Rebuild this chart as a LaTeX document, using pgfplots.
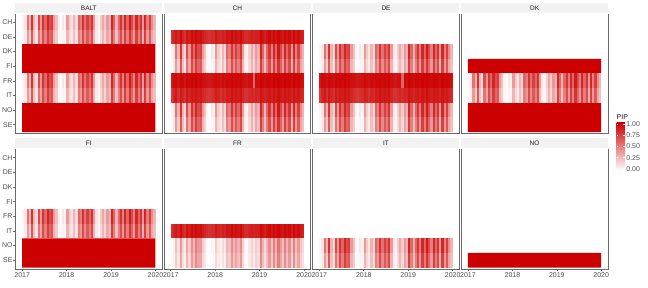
\documentclass[border=0pt]{standalone}
\usepackage{pgfplots}
\pgfplotsset{compat=1.18}
\usepackage{pgfplotstable}
\usepackage{fontspec}
\setmainfont{Liberation Sans}
\definecolor{pipred}{RGB}{204,0,0}
\definecolor{axtext}{RGB}{77,77,77}
\definecolor{striptext}{RGB}{26,26,26}
\definecolor{stripbg}{RGB}{242,242,242}
\definecolor{axline}{RGB}{105,105,105}

\pgfdeclareplotmark{cell}{\pgfpathrectangle{\pgfpoint{-1.2bp}{-7.35bp}}{\pgfpoint{2.4bp}{14.7bp}}\pgfusepathqfill}

\pgfplotstableread{
x p1 p2 h1 h2 h3 l1 l2
2017.025 0.05 0.03 0.80 0.90 0.75 0.02 0.02
2017.075 0.10 0.08 0.85 0.95 0.85 0.05 0.04
2017.125 0.55 0.40 0.90 0.95 0.90 0.25 0.20
2017.175 0.30 0.20 0.85 0.92 0.80 0.12 0.10
2017.225 0.80 0.65 0.95 0.97 0.90 0.40 0.35
2017.275 0.30 0.25 0.85 0.95 0.85 0.15 0.12
2017.325 0.15 0.10 0.80 0.92 0.80 0.08 0.05
2017.375 0.70 0.55 0.92 0.97 0.90 0.35 0.30
2017.425 0.40 0.35 0.88 0.95 0.85 0.20 0.15
2017.475 0.80 0.70 0.95 0.97 0.90 0.45 0.40
2017.525 0.60 0.50 0.90 0.95 0.88 0.30 0.25
2017.575 0.85 0.75 0.95 0.98 0.92 0.50 0.45
2017.625 0.70 0.60 0.92 0.95 0.88 0.40 0.35
2017.675 0.75 0.65 0.93 0.96 0.90 0.40 0.35
2017.725 0.40 0.30 0.88 0.94 0.85 0.20 0.15
2017.775 0.25 0.20 0.85 0.93 0.82 0.12 0.10
2017.825 0.05 0.03 0.82 0.92 0.80 0.02 0.02
2017.875 0.00 0.02 0.80 0.90 0.78 0.00 0.00
2017.925 0.10 0.05 0.83 0.92 0.80 0.05 0.03
2017.975 0.05 0.04 0.82 0.93 0.82 0.02 0.02
2018.025 0.40 0.30 0.90 0.95 0.88 0.20 0.15
2018.075 0.20 0.15 0.85 0.94 0.85 0.10 0.08
2018.125 0.10 0.08 0.83 0.92 0.80 0.05 0.04
2018.175 0.30 0.25 0.88 0.95 0.85 0.15 0.12
2018.225 0.15 0.12 0.85 0.93 0.82 0.08 0.06
2018.275 0.60 0.50 0.92 0.96 0.88 0.30 0.25
2018.325 0.50 0.40 0.90 0.95 0.87 0.25 0.20
2018.375 0.80 0.70 0.95 0.97 0.92 0.45 0.40
2018.425 0.55 0.45 0.90 0.95 0.88 0.30 0.25
2018.475 0.75 0.65 0.93 0.96 0.90 0.40 0.35
2018.525 0.60 0.50 0.90 0.95 0.88 0.30 0.25
2018.575 0.80 0.70 0.95 0.97 0.92 0.45 0.40
2018.625 0.40 0.30 0.88 0.94 0.85 0.20 0.15
2018.675 0.10 0.08 0.83 0.92 0.80 0.05 0.04
2018.725 0.05 0.03 0.82 0.90 0.80 0.02 0.02
2018.775 0.20 0.15 0.85 0.93 0.83 0.10 0.08
2018.825 0.35 0.30 0.88 0.94 0.85 0.18 0.15
2018.875 0.20 0.15 0.85 0.60 0.82 0.10 0.08
2018.925 0.40 0.35 0.88 0.95 0.86 0.20 0.18
2018.975 0.30 0.25 0.87 0.94 0.84 0.15 0.12
2019.025 0.85 0.75 0.96 0.98 0.92 0.50 0.45
2019.075 0.60 0.50 0.92 0.96 0.88 0.30 0.25
2019.125 0.30 0.25 0.87 0.94 0.85 0.15 0.12
2019.175 0.60 0.50 0.92 0.96 0.88 0.30 0.25
2019.225 0.80 0.70 0.95 0.97 0.90 0.45 0.40
2019.275 0.50 0.40 0.90 0.95 0.87 0.25 0.20
2019.325 0.85 0.75 0.96 0.98 0.92 0.50 0.45
2019.375 0.60 0.50 0.92 0.96 0.88 0.30 0.25
2019.425 0.90 0.80 0.97 0.98 0.93 0.55 0.50
2019.475 0.70 0.60 0.93 0.96 0.90 0.40 0.35
2019.525 0.50 0.40 0.90 0.95 0.87 0.25 0.20
2019.575 0.85 0.75 0.96 0.98 0.92 0.50 0.45
2019.625 0.60 0.50 0.92 0.96 0.88 0.30 0.25
2019.675 0.80 0.70 0.95 0.97 0.90 0.45 0.40
2019.725 0.40 0.30 0.88 0.94 0.85 0.20 0.15
2019.775 0.85 0.75 0.96 0.98 0.92 0.50 0.45
2019.825 0.50 0.40 0.90 0.95 0.87 0.25 0.20
2019.875 0.75 0.65 0.94 0.97 0.90 0.40 0.35
2019.925 0.45 0.35 0.89 0.95 0.86 0.22 0.18
2019.975 0.30 0.25 0.87 0.94 0.84 0.15 0.12
}\pat

\pgfplotsset{
 panel/.style={
   scale only axis, width=146.6bp, height=120bp, anchor=south west,
   xmin=2016.85, xmax=2020.15, ymin=0.4, ymax=8.6,
   clip=false, axis line style={draw=none},
   xtick={2017,2018,2019,2020}, xticklabels={2017,2018,2019,2020},
   ytick={1,2,3,4,5,6,7,8}, yticklabels={SE,NO,IT,FR,FI,DK,DE,CH},
   xtick pos=bottom, ytick pos=left, tick align=outside,
   major tick length=2.2bp, major tick style={axline, line width=0.6bp},
   tick label style={font=\fontsize{7}{8}\selectfont, text=axtext},
   yticklabel style={inner sep=0.6bp},
   xticklabel style={inner sep=0.6bp, yshift=-0.5bp},
   colormap={pip}{color(0)=(white) color(1)=(pipred)},
   point meta min=0, point meta max=1,
 },
 notx/.style={xtick=\empty},
 noty/.style={ytick=\empty},
 cellplot/.style={scatter, only marks, mark=cell, point meta=explicit,
   scatter/use mapped color={draw=none, fill=mapped color}},
 solidrow/.style={draw=none, fill=pipred},
}
\tikzset{strip/.style={fill=stripbg, minimum width=146.6bp, minimum height=10bp,
  inner sep=0pt, anchor=south, yshift=0.5bp, text=striptext,
  font=\fontsize{6.5}{7}\selectfont}}
\newcommand{\frameaxis}[1]{%
  \draw[axline, line width=0.7bp] (rel axis cs:0,1) -- (rel axis cs:0,0) -- (rel axis cs:1,0) -- (rel axis cs:1,1);
  \node[strip] at (rel axis cs:0.5,1) {#1};}

\begin{document}
\begin{tikzpicture}
\path[use as bounding box] (0,0) rectangle (648bp,288bp);

% ---------- Row 1 ----------
\begin{axis}[panel, notx, at={(15.5bp,154.5bp)}]
\addplot[cellplot] table[x=x, y expr=8, meta=p1] {\pat};
\addplot[cellplot] table[x=x, y expr=7, meta=p2] {\pat};
\addplot[solidrow] coordinates {(2017,4.5) (2020,4.5) (2020,6.5) (2017,6.5) (2017,4.5)};
\addplot[cellplot] table[x=x, y expr=4, meta=p1] {\pat};
\addplot[cellplot] table[x=x, y expr=3, meta=p2] {\pat};
\addplot[solidrow] coordinates {(2017,0.5) (2020,0.5) (2020,2.5) (2017,2.5) (2017,0.5)};
\frameaxis{BALT}
\end{axis}

\begin{axis}[panel, notx, noty, at={(164.1bp,154.5bp)}]
\addplot[cellplot] table[x=x, y expr=7, meta=h1] {\pat};
\addplot[cellplot] table[x=x, y expr=6, meta=p1] {\pat};
\addplot[cellplot] table[x=x, y expr=5, meta=p2] {\pat};
\addplot[cellplot] table[x=x, y expr=4, meta=h2] {\pat};
\addplot[cellplot] table[x=x, y expr=3, meta=h3] {\pat};
\addplot[cellplot] table[x=x, y expr=2, meta=p1] {\pat};
\addplot[cellplot] table[x=x, y expr=1, meta=p2] {\pat};
\frameaxis{CH}
\end{axis}

\begin{axis}[panel, notx, noty, at={(312.7bp,154.5bp)}]
\addplot[cellplot] table[x=x, y expr=6, meta=p1] {\pat};
\addplot[cellplot] table[x=x, y expr=5, meta=p2] {\pat};
\addplot[cellplot] table[x=x, y expr=4, meta=h2] {\pat};
\addplot[cellplot] table[x=x, y expr=3, meta=h3] {\pat};
\addplot[cellplot] table[x=x, y expr=2, meta=p1] {\pat};
\addplot[cellplot] table[x=x, y expr=1, meta=p2] {\pat};
\frameaxis{DE}
\end{axis}

\begin{axis}[panel, notx, noty, at={(461.3bp,154.5bp)}]
\addplot[solidrow] coordinates {(2017,4.5) (2020,4.5) (2020,5.5) (2017,5.5) (2017,4.5)};
\addplot[cellplot] table[x=x, y expr=4, meta=p1] {\pat};
\addplot[cellplot] table[x=x, y expr=3, meta=p2] {\pat};
\addplot[solidrow] coordinates {(2017,0.5) (2020,0.5) (2020,2.5) (2017,2.5) (2017,0.5)};
\frameaxis{DK}
\end{axis}

% ---------- Row 2 ----------
\begin{axis}[panel, at={(15.5bp,19bp)}]
\addplot[cellplot] table[x=x, y expr=4, meta=p1] {\pat};
\addplot[cellplot] table[x=x, y expr=3, meta=p2] {\pat};
\addplot[solidrow] coordinates {(2017,0.5) (2020,0.5) (2020,2.5) (2017,2.5) (2017,0.5)};
\frameaxis{FI}
\end{axis}

\begin{axis}[panel, noty, at={(164.1bp,19bp)}]
\addplot[cellplot] table[x=x, y expr=3, meta=h1] {\pat};
\addplot[cellplot] table[x=x, y expr=2, meta=l1] {\pat};
\addplot[cellplot] table[x=x, y expr=1, meta=l2] {\pat};
\frameaxis{FR}
\end{axis}

\begin{axis}[panel, noty, at={(312.7bp,19bp)}]
\addplot[cellplot] table[x=x, y expr=2, meta=p1] {\pat};
\addplot[cellplot] table[x=x, y expr=1, meta=p2] {\pat};
\frameaxis{IT}
\end{axis}

\begin{axis}[panel, noty, at={(461.3bp,19bp)}]
\addplot[solidrow] coordinates {(2017,0.5) (2020,0.5) (2020,1.5) (2017,1.5) (2017,0.5)};
\frameaxis{NO}
\end{axis}

% ---------- Colour bar legend ----------
\begin{axis}[at={(616.5bp,117.5bp)}, anchor=south west, scale only axis,
  width=8.5bp, height=47.95bp, xmin=0, xmax=1, ymin=-0.04, ymax=1.04,
  axis line style={draw=none}, xtick=\empty,
  ytick={0,0.25,0.5,0.75,1}, yticklabels={0.00,0.25,0.50,0.75,1.00},
  ytick pos=both, yticklabel pos=right, tick align=inside,
  major tick length=1.7bp, major tick style={white, line width=0.5bp},
  axis on top, clip=false,
  tick label style={font=\fontsize{7}{8}\selectfont, text=axtext},
  yticklabel style={inner sep=1.2bp}]
\shade[bottom color=white, top color=pipred] (rel axis cs:0,0) rectangle (rel axis cs:1,1);
\node[anchor=south west, inner sep=0pt, text=striptext, font=\fontsize{7}{8}\selectfont] at ([yshift=2.5bp]rel axis cs:0,1) {PIP};
\end{axis}
\end{tikzpicture}
\end{document}
